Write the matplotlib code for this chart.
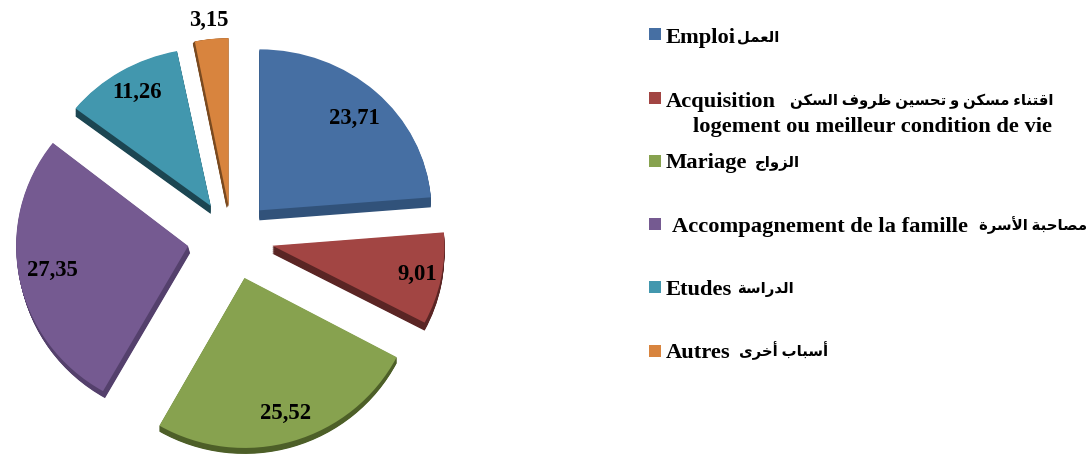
"""Exploded pie of migration reasons with a hand-placed legend."""

import matplotlib

matplotlib.use("Agg")
import matplotlib.pyplot as plt
from matplotlib.patches import Rectangle
from matplotlib.transforms import Affine2D

W, H = 1090, 455

values = [23.71, 9.01, 25.52, 27.35, 11.26, 3.15]
value_labels = ["23,71", "9,01", "25,52", "27,35", "11,26", "3,15"]
legend_fr = ["Emploi", "Acquisition", "Mariage", "Accompagnement de la famille", "Etudes", "Autres"]
legend_ar = ["العمل", "اقتناء مسكن و تحسين ظروف السكن", "الزواج", "مصاحبة الأسرة", "الدراسة", "أسباب أخرى"]
legend_extra = "logement ou meilleur condition de vie"
colors = ["#466FA3", "#A24543", "#87A24F", "#755A91", "#4297AE", "#D8843E"]
side_colors = ["#31527A", "#5A2524", "#4D5F28", "#54406C", "#1C4652", "#7A4A20"]

explode = [0.235, 0.24, 0.26, 0.26, 0.235, 0.2]
slice_ry = [161, 165, 170, 167, 158, 168]
depth_px = [(0, 10), (0, 8), (0, 6), (2, 7), (0, 8), (-2, 2)]
label_px = [(354, 118), (417, 274), (286, 413), (52, 270), (137, 92), (209, 20)]
swatch_y = [34, 98, 161, 224, 287, 351]
baseline_y = [43, 107, 168, 232, 295, 358]
fr_x = [666, 666, 666, 672, 666, 666]
ar_right = [779, 1053, 800, 1087, 794, 828]

FONT = ["Liberation Serif", "DejaVu Sans"]

# just enough Arabic shaping, matplotlib does not join or reorder letters
ARABIC_FORMS = {
    "ء": (0xFE80, 0, 0, 0), "أ": (0xFE83, 0xFE84, 0, 0), "ا": (0xFE8D, 0xFE8E, 0, 0),
    "ب": (0xFE8F, 0xFE90, 0xFE91, 0xFE92), "ة": (0xFE93, 0xFE94, 0, 0),
    "ت": (0xFE95, 0xFE96, 0xFE97, 0xFE98), "ج": (0xFE9D, 0xFE9E, 0xFE9F, 0xFEA0),
    "ح": (0xFEA1, 0xFEA2, 0xFEA3, 0xFEA4), "خ": (0xFEA5, 0xFEA6, 0xFEA7, 0xFEA8),
    "د": (0xFEA9, 0xFEAA, 0, 0), "ر": (0xFEAD, 0xFEAE, 0, 0), "ز": (0xFEAF, 0xFEB0, 0, 0),
    "س": (0xFEB1, 0xFEB2, 0xFEB3, 0xFEB4), "ص": (0xFEB9, 0xFEBA, 0xFEBB, 0xFEBC),
    "ظ": (0xFEC5, 0xFEC6, 0xFEC7, 0xFEC8), "ع": (0xFEC9, 0xFECA, 0xFECB, 0xFECC),
    "ف": (0xFED1, 0xFED2, 0xFED3, 0xFED4), "ق": (0xFED5, 0xFED6, 0xFED7, 0xFED8),
    "ك": (0xFED9, 0xFEDA, 0xFEDB, 0xFEDC), "ل": (0xFEDD, 0xFEDE, 0xFEDF, 0xFEE0),
    "م": (0xFEE1, 0xFEE2, 0xFEE3, 0xFEE4), "ن": (0xFEE5, 0xFEE6, 0xFEE7, 0xFEE8),
    "ه": (0xFEE9, 0xFEEA, 0xFEEB, 0xFEEC), "و": (0xFEED, 0xFEEE, 0, 0),
    "ى": (0xFEEF, 0xFEF0, 0, 0), "ي": (0xFEF1, 0xFEF2, 0xFEF3, 0xFEF4),
}
LAM_ALEF = {"ا": (0xFEFB, 0xFEFC), "أ": (0xFEF7, 0xFEF8)}


def shape_word(word):
    out = []
    i = 0
    joined = False
    while i < len(word):
        c = word[i]
        if c == "ل" and i + 1 < len(word) and word[i + 1] in LAM_ALEF:
            out.append(chr(LAM_ALEF[word[i + 1]][1 if joined else 0]))
            joined = False
            i += 2
            continue
        forms = ARABIC_FORMS[c]
        next_ok = i + 1 < len(word) and forms[2] != 0
        if joined and next_ok:
            code = forms[3]
        elif joined:
            code = forms[1]
        elif next_ok:
            code = forms[2]
        else:
            code = forms[0]
        out.append(chr(code))
        joined = next_ok
        i += 1
    return "".join(reversed(out))


def visual(text):
    return " ".join(shape_word(word) for word in reversed(text.split(" ")))


fig = plt.figure(figsize=(W / 100, H / 100), dpi=100, facecolor="white")

# pie axes: 1 data unit = 172 px across, 160 px down
cx, cy, rx, ry, span = 232, 238, 172, 160, 1.7
ax = fig.add_axes([(cx - rx * span) / W, 1 - (cy + ry * span) / H, 2 * rx * span / W, 2 * ry * span / H])


def draw_layer(face_colors, frac):
    # slices nearer the viewer are taller, each one is scaled about its own apex
    wedges, _ = ax.pie(values, explode=explode, startangle=90, counterclock=False,
                       colors=face_colors, wedgeprops={"linewidth": 0})
    for w, k, (dx, dy) in zip(wedges, slice_ry, depth_px):
        x0, y0 = w.center
        t = Affine2D().translate(-x0, -y0).scale(1, k / ry).translate(x0, y0)
        t = t.translate(dx * frac / rx, -dy * frac / ry)
        w.set_transform(t + ax.transData)


# stacked dark copies give the slice thickness
steps = 12
for k in range(steps, 0, -1):
    draw_layer(side_colors, k / steps)
draw_layer(colors, 0)

ax.set_aspect("auto")
ax.set_xlim(-span, span)
ax.set_ylim(-span, span)

overlay = fig.add_axes([0, 0, 1, 1])
overlay.set_xlim(0, W)
overlay.set_ylim(H, 0)
overlay.axis("off")
overlay.patch.set_alpha(0)

for text, (x, y) in zip(value_labels, label_px):
    overlay.text(x, y, text, family=FONT, fontweight="bold", fontsize=16.3, ha="center", va="center", color="black")

for i, color in enumerate(colors):
    overlay.add_patch(Rectangle((649, swatch_y[i] - 6), 12, 12, facecolor=color, edgecolor="none"))
    overlay.text(fr_x[i], baseline_y[i], legend_fr[i], family=FONT, fontweight="bold", fontsize=16.2,
                 ha="left", va="baseline", color="black")
    overlay.text(ar_right[i], baseline_y[i] - 2, visual(legend_ar[i]), family=FONT, fontweight="bold", fontsize=10.7,
                 ha="right", va="baseline", color="black")
overlay.text(693, baseline_y[1] + 25, legend_extra, family=FONT, fontweight="bold", fontsize=16.2,
             ha="left", va="baseline", color="black")

fig.savefig("out.png", dpi=100)
